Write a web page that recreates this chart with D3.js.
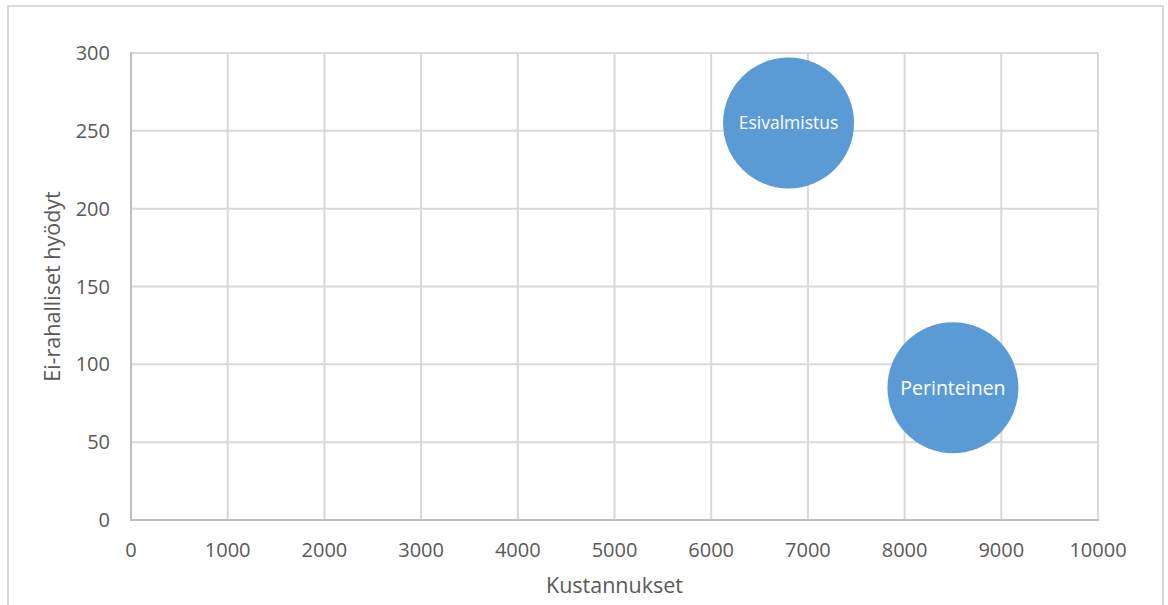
<!DOCTYPE html>
<html>
<head>
<meta charset="utf-8">
<script src="https://cdn.jsdelivr.net/npm/d3@7"></script>
<style>
  html, body { margin:0; padding:0; background:#fff; }
  svg text { font-family: "Open Sans", "Noto Sans", sans-serif; }
</style>
</head>
<body>
<svg id="chart" width="1168" height="605"></svg>
<script>
/* ---------- data -------------------------------------------- */
const names    = ["Esivalmistus", "Perinteinen"];
const costs    = [6800, 8500];        // Kustannukset
const benefits = [255, 85];           // Ei-rahalliset hyödyt
const sizes    = [100, 100];          // bubble size
const labelPx  = [17.5, 19.5];        // label font size per bubble

const xTicks = [0,1000,2000,3000,4000,5000,6000,7000,8000,9000,10000];
const yTicks = [0,50,100,150,200,250,300];

/* ---------- layout ------------------------------------------ */
const W = 1168, H = 605;
const margin = {top:53, right:70, bottom:85, left:131};
const textCol = "#595959", gridCol = "#d9d9d9", axisCol = "#bfbfbf";
const tickPx = 20, titlePx = 21.5;

const svg = d3.select("#chart");

// outer chart border
svg.append("rect")
   .attr("x", 8).attr("y", 6)
   .attr("width", 1155).attr("height", 610)
   .attr("fill", "none")
   .attr("stroke", gridCol).attr("stroke-width", 2);

const x = d3.scaleLinear().domain([0, 10000]).range([margin.left, W - margin.right]);
const y = d3.scaleLinear().domain([0, 300]).range([H - margin.bottom, margin.top]);
const r = d3.scaleSqrt().domain([0, d3.max(sizes)]).range([0, 65.5]);

/* ---------- grid -------------------------------------------- */
const g = svg.append("g");
g.selectAll("line.vgrid").data(xTicks.slice(1)).enter().append("line")
  .attr("x1", d => x(d)).attr("x2", d => x(d))
  .attr("y1", y(0)).attr("y2", y(300))
  .attr("stroke", gridCol).attr("stroke-width", 2);
g.selectAll("line.hgrid").data(yTicks.slice(1)).enter().append("line")
  .attr("x1", x(0)).attr("x2", x(10000))
  .attr("y1", d => y(d)).attr("y2", d => y(d))
  .attr("stroke", gridCol).attr("stroke-width", 2);

// axis lines
g.append("line").attr("x1", x(0)).attr("x2", x(0)).attr("y1", y(0)+1).attr("y2", y(300)-1)
  .attr("stroke", axisCol).attr("stroke-width", 2);
g.append("line").attr("x1", x(0)-1).attr("x2", x(10000)+1).attr("y1", y(0)).attr("y2", y(0))
  .attr("stroke", axisCol).attr("stroke-width", 2);

/* ---------- tick labels ------------------------------------- */
g.selectAll("text.xt").data(xTicks).enter().append("text")
  .attr("x", d => x(d)).attr("y", y(0) + 37)
  .attr("text-anchor", "middle")
  .attr("font-size", tickPx).attr("fill", textCol)
  .text(d => d);
g.selectAll("text.yt").data(yTicks).enter().append("text")
  .attr("x", 110).attr("y", d => y(d))
  .attr("dy", "0.35em")
  .attr("text-anchor", "end")
  .attr("font-size", tickPx).attr("fill", textCol)
  .text(d => d);

/* ---------- axis titles ------------------------------------- */
svg.append("text")
   .attr("x", (x(0) + x(10000)) / 2).attr("y", 593)
   .attr("text-anchor", "middle")
   .attr("font-size", titlePx).attr("fill", textCol)
   .text("Kustannukset");
svg.append("text")
   .attr("transform", `translate(60,${(y(0)+y(300))/2}) rotate(-90)`)
   .attr("text-anchor", "middle")
   .attr("font-size", titlePx).attr("fill", textCol)
   .text("Ei-rahalliset hyödyt");

/* ---------- bubbles ----------------------------------------- */
const pts = names.map((n, i) => ({name:n, cost:costs[i], benefit:benefits[i], size:sizes[i], fs:labelPx[i]}));
const b = svg.append("g").selectAll("g").data(pts).enter().append("g");
b.append("circle")
  .attr("cx", d => x(d.cost)).attr("cy", d => y(d.benefit))
  .attr("r", d => r(d.size))
  .attr("fill", "#5b9bd5");
b.append("text")
  .attr("x", d => x(d.cost)).attr("y", d => y(d.benefit))
  .attr("dy", "0.35em")
  .attr("text-anchor", "middle")
  .attr("font-size", d => d.fs)
  .attr("fill", "#fff")
  .text(d => d.name);
</script>
</body>
</html>
